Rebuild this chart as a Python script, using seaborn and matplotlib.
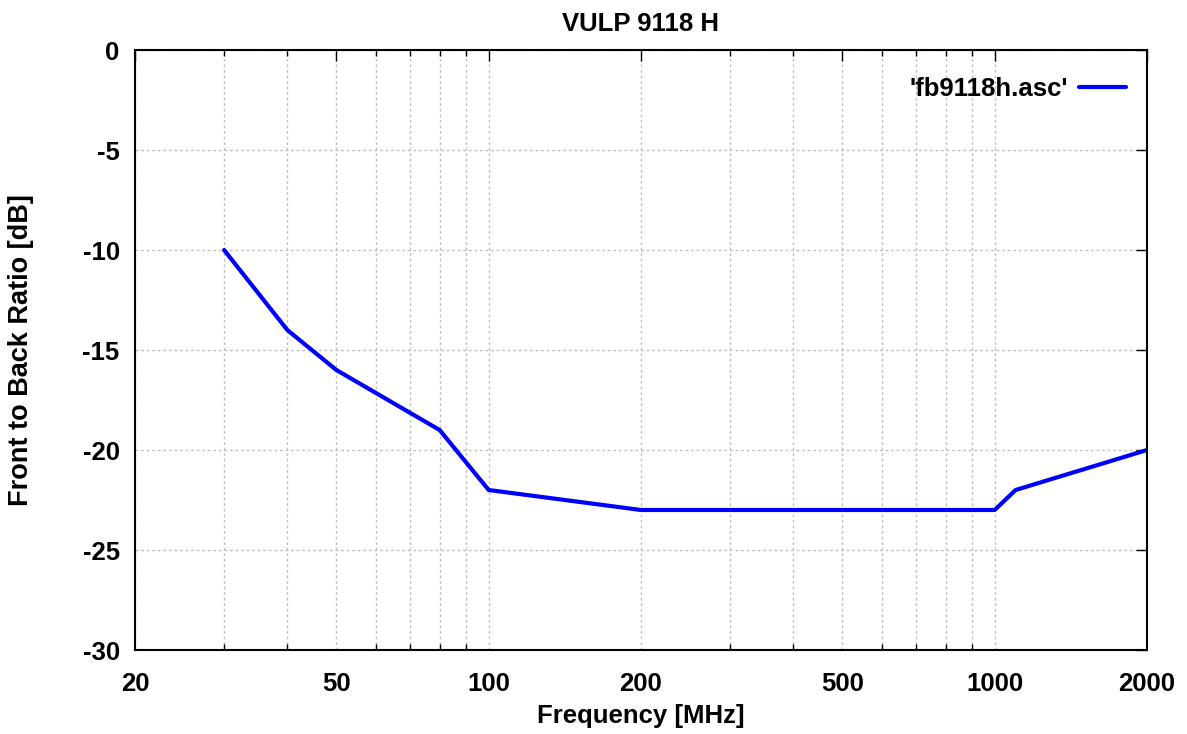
import numpy as np
import pandas as pd
import matplotlib
matplotlib.use("Agg")
import matplotlib.pyplot as plt
import seaborn as sns
from matplotlib.ticker import FixedLocator, NullFormatter

# data
freq_mhz = [30, 40, 50, 80, 100, 200, 500, 1000, 1100, 2000]
fb_ratio_db = [-10, -14, -16, -19, -22, -23, -23, -23, -22, -20]
x_ticks = [20, 50, 100, 200, 500, 1000, 2000]
y_ticks = [0, -5, -10, -15, -20, -25, -30]

df = pd.DataFrame({"freq": freq_mhz, "fb": fb_ratio_db})

sns.set_style("white")
plt.rcParams['font.family'] = ['Liberation Sans', 'DejaVu Sans']
plt.rcParams['font.weight'] = 'bold'
for k in ['text.color', 'axes.labelcolor', 'xtick.color', 'ytick.color']:
    plt.rcParams[k] = 'black'

FS = 18.5

fig = plt.figure(figsize=(11.87, 7.34), dpi=100)
ax = fig.add_axes([135 / 1187, 84 / 734, 1012 / 1187, 600 / 734])

sns.lineplot(data=df, x="freq", y="fb", ax=ax, color="#0000ff", linewidth=3,
             label="'fb9118h.asc'")

ax.set_xscale("log")
ax.set_xlim(20, 2000)
ax.set_ylim(-30, 0)

minor = []
for dec in [10, 100, 1000]:
    for m in range(2, 10):
        v = dec * m
        if 20 <= v <= 2000:
            minor.append(v)
ax.xaxis.set_major_locator(FixedLocator(x_ticks))
ax.xaxis.set_minor_locator(FixedLocator(minor))
ax.xaxis.set_minor_formatter(NullFormatter())
ax.set_xticklabels([str(t) for t in x_ticks])
ax.set_yticks(y_ticks)
ax.set_yticklabels([str(t) for t in y_ticks])

ax.grid(True, which="both", axis="x", color="#c0c0c0", linestyle=(0, (2, 2)), linewidth=1)
ax.grid(True, which="major", axis="y", color="#c0c0c0", linestyle=(0, (2, 2)), linewidth=1)

ax.tick_params(axis="both", which="major", direction="in", length=8, width=1,
               labelsize=FS, top=True, right=True)
ax.tick_params(axis="x", which="major", pad=16)
ax.tick_params(axis="y", which="major", pad=11)
ax.tick_params(axis="x", which="minor", direction="in", length=4, width=1,
               top=True, bottom=True)
for lbl in ax.get_xticklabels() + ax.get_yticklabels():
    lbl.set_fontweight("bold")

for sp in ax.spines.values():
    sp.set_color("black")
    sp.set_linewidth(1.5)

ax.set_title("VULP 9118 H", fontsize=FS, fontweight="bold", pad=14)
ax.set_xlabel("Frequency [MHz]", fontsize=FS, fontweight="bold")
ax.set_ylabel("Front to Back Ratio [dB]", fontsize=19.5, fontweight="bold")
ax.xaxis.set_label_coords(0.5, -0.09)
ax.yaxis.set_label_coords(-0.1, 0.5)

leg = ax.legend(loc="upper right", frameon=False, fontsize=FS, markerfirst=False,
                handlelength=1.8, handletextpad=0.45, borderpad=0, borderaxespad=0,
                bbox_to_anchor=(0.979, 0.955))
for t in leg.get_texts():
    t.set_fontweight("bold")

fig.savefig("out.png", dpi=100)
